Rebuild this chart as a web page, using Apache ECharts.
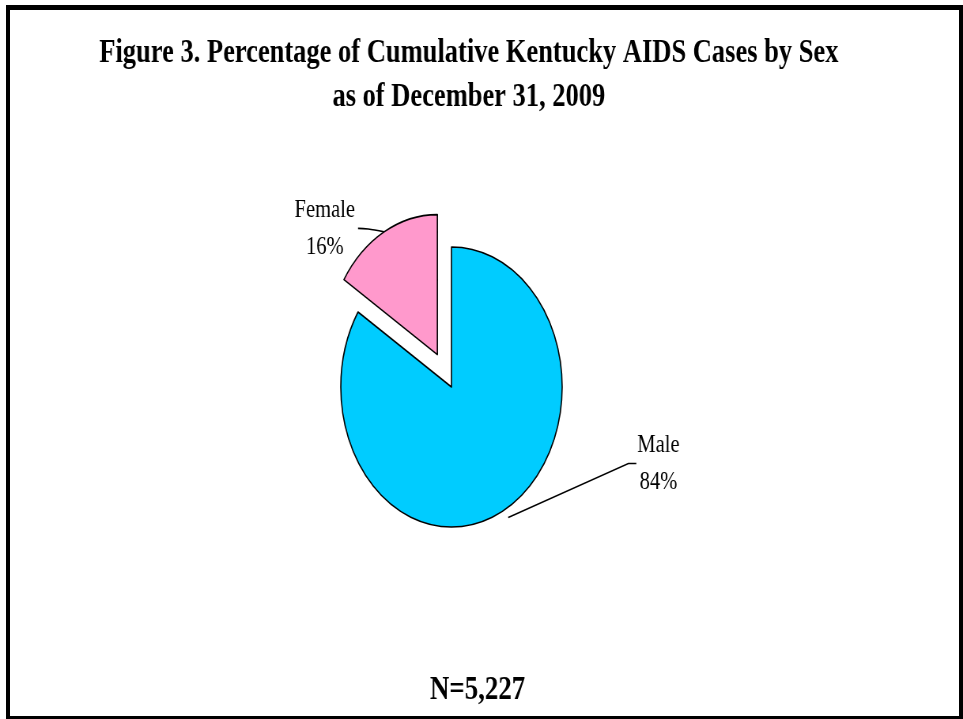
<!DOCTYPE html>
<html>
<head>
<meta charset="utf-8">
<title>Kentucky AIDS Cases by Sex</title>
<script src="https://cdn.jsdelivr.net/npm/echarts@6.0.0/dist/echarts.min.js"></script>
<style>
  html, body { margin: 0; padding: 0; background: #fff; width: 963px; height: 719px; overflow: hidden; }
  #frame {
    position: absolute; left: 6px; top: 5px; width: 949px; height: 706px;
    border-style: solid; border-color: #000; border-width: 5px 4px 3px 4px;
  }
  #chart { position: absolute; left: 0; top: 0; height: 719px; transform-origin: 0 0; }
</style>
</head>
<body>
<div id="frame"></div>
<div id="chart"></div>
<script>
// Cumulative AIDS cases by sex, Kentucky, through 2009
const categories = ['Male', 'Female'];
const percentages = [84, 16];
const sliceColors = ['#00CCFF', '#FF99CC'];
const explodedSlices = [false, true];
const titleLines = [
  'Figure 3. Percentage of Cumulative Kentucky AIDS Cases by Sex',
  'as of December 31, 2009'
];
const totalCases = 5227;

// The figure is drawn wide and then compressed horizontally, giving the
// narrow type and the tall, oval pie of the printed report.
const SQUEEZE = 0.79;
const PAGE_W = 963, PAGE_H = 719;
const drawW = PAGE_W / SQUEEZE;

const chartEl = document.getElementById('chart');
chartEl.style.width = drawW + 'px';
chartEl.style.transform = 'scaleX(' + SQUEEZE + ')';

const SERIF = "'Liberation Serif', 'Times New Roman', Times, serif";

// Leader line geometry for the Male label (drawing-space pixels)
const maleLeader = { gap: 9, run: 152, rise: 54, tail: 10, textOffset: 28 };
// Knee of the curved Female leader, measured back from its end
const femaleKnee = 13;

const chart = echarts.init(chartEl, null, { width: drawW, height: PAGE_H });

const pieData = categories.map((name, i) => ({
  name: name,
  value: percentages[i],
  selected: explodedSlices[i],
  itemStyle: { color: sliceColors[i] },
  labelLine: { smooth: explodedSlices[i] ? 0.5 : false }
}));

chart.setOption({
  animation: false,
  backgroundColor: 'transparent',
  title: [
    {
      text: titleLines.join('\n'),
      left: 593,
      top: 31,
      padding: 0,
      textAlign: 'center',
      textVerticalAlign: 'top',
      textStyle: {
        fontFamily: SERIF, fontWeight: 'bold', fontSize: 33.5,
        lineHeight: 44, color: '#000'
      }
    },
    {
      text: 'N=' + totalCases.toLocaleString('en-US'),
      left: 604,
      top: 668,
      padding: 0,
      textAlign: 'center',
      textVerticalAlign: 'top',
      textStyle: {
        fontFamily: SERIF, fontWeight: 'bold', fontSize: 34,
        lineHeight: 44, color: '#000'
      }
    }
  ],
  series: [{
    type: 'pie',
    center: [571, 387],
    radius: 140,
    startAngle: 90,
    clockwise: true,
    selectedMode: 'single',
    selectedOffset: 37,
    avoidLabelOverlap: false,
    emphasis: { disabled: true },
    itemStyle: { borderColor: '#000', borderWidth: 1.6 },
    label: {
      show: true,
      position: 'outside',
      distanceToLabelLine: 3,
      formatter: '{t|{b}}\n{t|{c}%}',
      rich: {
        t: {
          fontFamily: SERIF, fontSize: 26, lineHeight: 37,
          color: '#000', width: 78, align: 'center'
        }
      }
    },
    labelLine: {
      show: true,
      length: 4,
      length2: 31,
      lineStyle: { color: '#000', width: 1.6 }
    },
    labelLayout: function (params) {
      const pts = params.labelLinePoints;
      if (!pts) return {};
      const p0 = pts[0], p1 = pts[1], p2 = pts[2];
      if (params.dataIndex === 0) {
        const dx = p1[0] - p0[0], dy = p1[1] - p0[1];
        const len = Math.hypot(dx, dy) || 1;
        const start = [p0[0] + dx / len * maleLeader.gap, p0[1] + dy / len * maleLeader.gap];
        const knee = [start[0] + maleLeader.run, start[1] - maleLeader.rise];
        const end = [knee[0] + maleLeader.tail, knee[1]];
        return {
          x: end[0] + maleLeader.textOffset,
          y: end[1],
          align: 'center',
          verticalAlign: 'middle',
          labelLinePoints: [start, knee, end]
        };
      }
      return { labelLinePoints: [p0, [p2[0] + femaleKnee, p2[1]], p2] };
    },
    data: pieData
  }]
});
</script>
</body>
</html>
